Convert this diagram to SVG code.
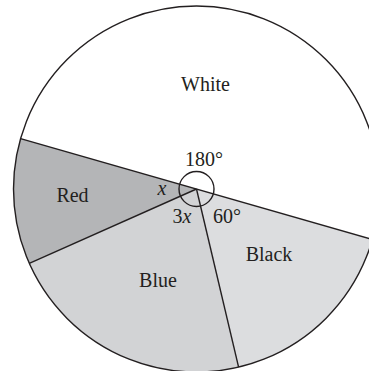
<svg xmlns="http://www.w3.org/2000/svg" width="369" height="371" viewBox="0 0 369 371">
<style>
.t{font-family:"Liberation Serif","Times New Roman",serif;font-size:20px;fill:#231f20}
.i{font-style:italic}
.ln{stroke:#231f20;stroke-width:1.4;fill:none}
</style>
<rect width="369" height="371" fill="#ffffff"/>
<g id="white">
<circle cx="196.5" cy="189" r="183" fill="#ffffff"/>
<text class="t" x="205.5" y="91" text-anchor="middle">White</text>
</g>
<g id="black">
<path d="M196.5,189 L372.4,239.4 A183,183 0 0 1 238.6,367.1 Z" fill="#dcdddf"/>
<text class="t" x="269" y="261" text-anchor="middle">Black</text>
</g>
<g id="blue">
<path d="M196.5,189 L238.6,367.1 A183,183 0 0 1 29.3,263.4 Z" fill="#d2d3d5"/>
<text class="t" x="158" y="287" text-anchor="middle">Blue</text>
</g>
<g id="red">
<path d="M196.5,189 L29.3,263.4 A183,183 0 0 1 20.6,138.6 Z" fill="#b4b5b7"/>
<text class="t" x="72.5" y="202" text-anchor="middle">Red</text>
</g>
<g id="boundaries">
<circle class="ln" cx="196.5" cy="189" r="183"/>
<line class="ln" x1="20.6" y1="138.6" x2="372.4" y2="239.4"/>
<line class="ln" x1="196.5" y1="189" x2="29.3" y2="263.4"/>
<line class="ln" x1="196.5" y1="189" x2="238.6" y2="367.1"/>
<circle class="ln" cx="196.5" cy="189" r="17.5"/>
</g>
<g id="angles">
<text class="t" x="204" y="166" text-anchor="middle">180°</text>
<text class="t i" x="162" y="195" text-anchor="middle">x</text>
<text class="t" x="182" y="223" text-anchor="middle">3<tspan class="i">x</tspan></text>
<text class="t" x="213" y="223">60°</text>
</g>
</svg>
